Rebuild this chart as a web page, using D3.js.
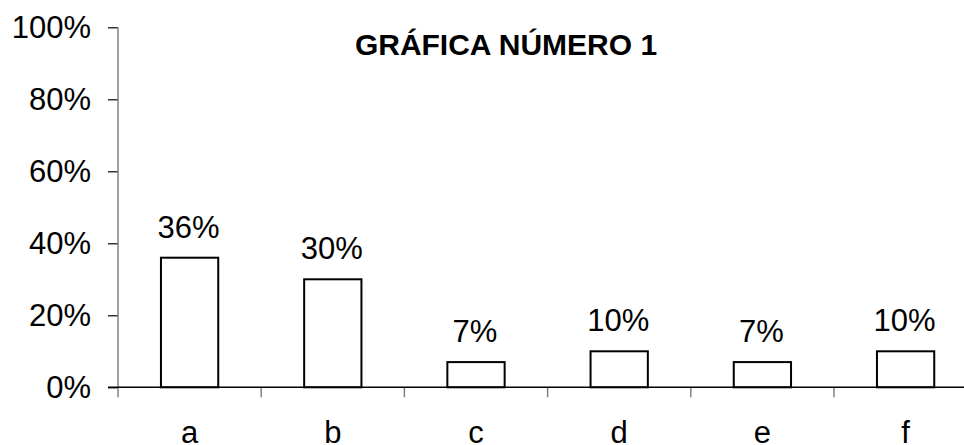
<!DOCTYPE html>
<html>
<head>
<meta charset="utf-8">
<script src="https://cdn.jsdelivr.net/npm/d3@7"></script>
<style>
  body { margin: 0; background: #fff; }
  svg { display: block; }
  text { font-family: "Liberation Sans", Arial, sans-serif; fill: #000; }
</style>
</head>
<body>
<div class="chart"></div>
<script>
// chart data
var categories = ["a", "b", "c", "d", "e", "f"];
var values = [0.36, 0.30, 0.07, 0.10, 0.07, 0.10];
var valueLabels = ["36%", "30%", "7%", "10%", "7%", "10%"];
var yTicks = [0, 0.2, 0.4, 0.6, 0.8, 1.0];
var title = "GRÁFICA NÚMERO 1";

var width = 964;
var height = 445;
var fontSize = '31px';

var svg = d3.select('.chart').append('svg')
            .attr('width', width)
            .attr('height', height);

var x0 = 118;
var step = 143.2;

var x = d3.scaleBand()
          .domain(categories)
          .range([x0, x0 + step * categories.length])
          .paddingInner(0.6)
          .paddingOuter(0.3);

var y = d3.scaleLinear()
          .domain([0, 1])
          .range([387.3, 27.3]);

// title
svg.append('text')
   .attr('x', 506)
   .attr('y', 55)
   .attr('text-anchor', 'middle')
   .style('font-size', '30px')
   .style('font-weight', 'bold')
   .text(title);

// y axis
var yAxis = d3.axisLeft(y)
              .tickValues(yTicks)
              .tickFormat(d3.format('.0%'))
              .tickSize(10)
              .tickPadding(17);

var yG = svg.append('g')
            .attr('transform', 'translate(' + x0 + ',0)')
            .call(yAxis);
yG.select('.domain').remove();
yG.selectAll('.tick line').attr('stroke', '#000').attr('stroke-width', 1.2);
yG.selectAll('.tick text')
  .style('font-size', fontSize)
  .style('font-family', '"Liberation Sans", Arial, sans-serif')
  .attr('fill', '#000');

svg.append('line')
   .attr('x1', x0).attr('x2', x0)
   .attr('y1', y(1)).attr('y2', y(0))
   .attr('stroke', '#808080')
   .attr('stroke-width', 1.5);

// x axis: tick marks at band boundaries
var boundaries = categories.map(function(d, i) { return x0 + step * i; });
svg.selectAll('.xtick')
   .data(boundaries)
   .enter().append('line')
   .attr('class', 'xtick')
   .attr('x1', function(d) { return d; })
   .attr('x2', function(d) { return d; })
   .attr('y1', y(0))
   .attr('y2', y(0) + 10)
   .attr('stroke', '#808080')
   .attr('stroke-width', 1.5);

// bars
svg.selectAll('.bar')
   .data(values)
   .enter().append('rect')
   .attr('class', 'bar')
   .attr('x', function(d, i) { return x(categories[i]); })
   .attr('width', x.bandwidth())
   .attr('y', function(d) { return y(d); })
   .attr('height', function(d) { return y(0) - y(d); })
   .attr('fill', '#fff')
   .attr('stroke', '#000')
   .attr('stroke-width', 2);

svg.append('line')
   .attr('x1', 108).attr('x2', width)
   .attr('y1', y(0)).attr('y2', y(0))
   .attr('stroke', '#000')
   .attr('stroke-width', 1.5);

// value labels
svg.selectAll('.vlabel')
   .data(values)
   .enter().append('text')
   .attr('class', 'vlabel')
   .attr('x', function(d, i) { return x(categories[i]) + x.bandwidth() / 2 - 1; })
   .attr('y', function(d) { return y(d) - 20; })
   .attr('text-anchor', 'middle')
   .style('font-size', fontSize)
   .text(function(d, i) { return valueLabels[i]; });

// category labels
svg.selectAll('.clabel')
   .data(categories)
   .enter().append('text')
   .attr('class', 'clabel')
   .attr('x', function(d) { return x(d) + x.bandwidth() / 2; })
   .attr('y', 443)
   .attr('text-anchor', 'middle')
   .style('font-size', fontSize)
   .text(function(d) { return d; });
</script>
</body>
</html>
